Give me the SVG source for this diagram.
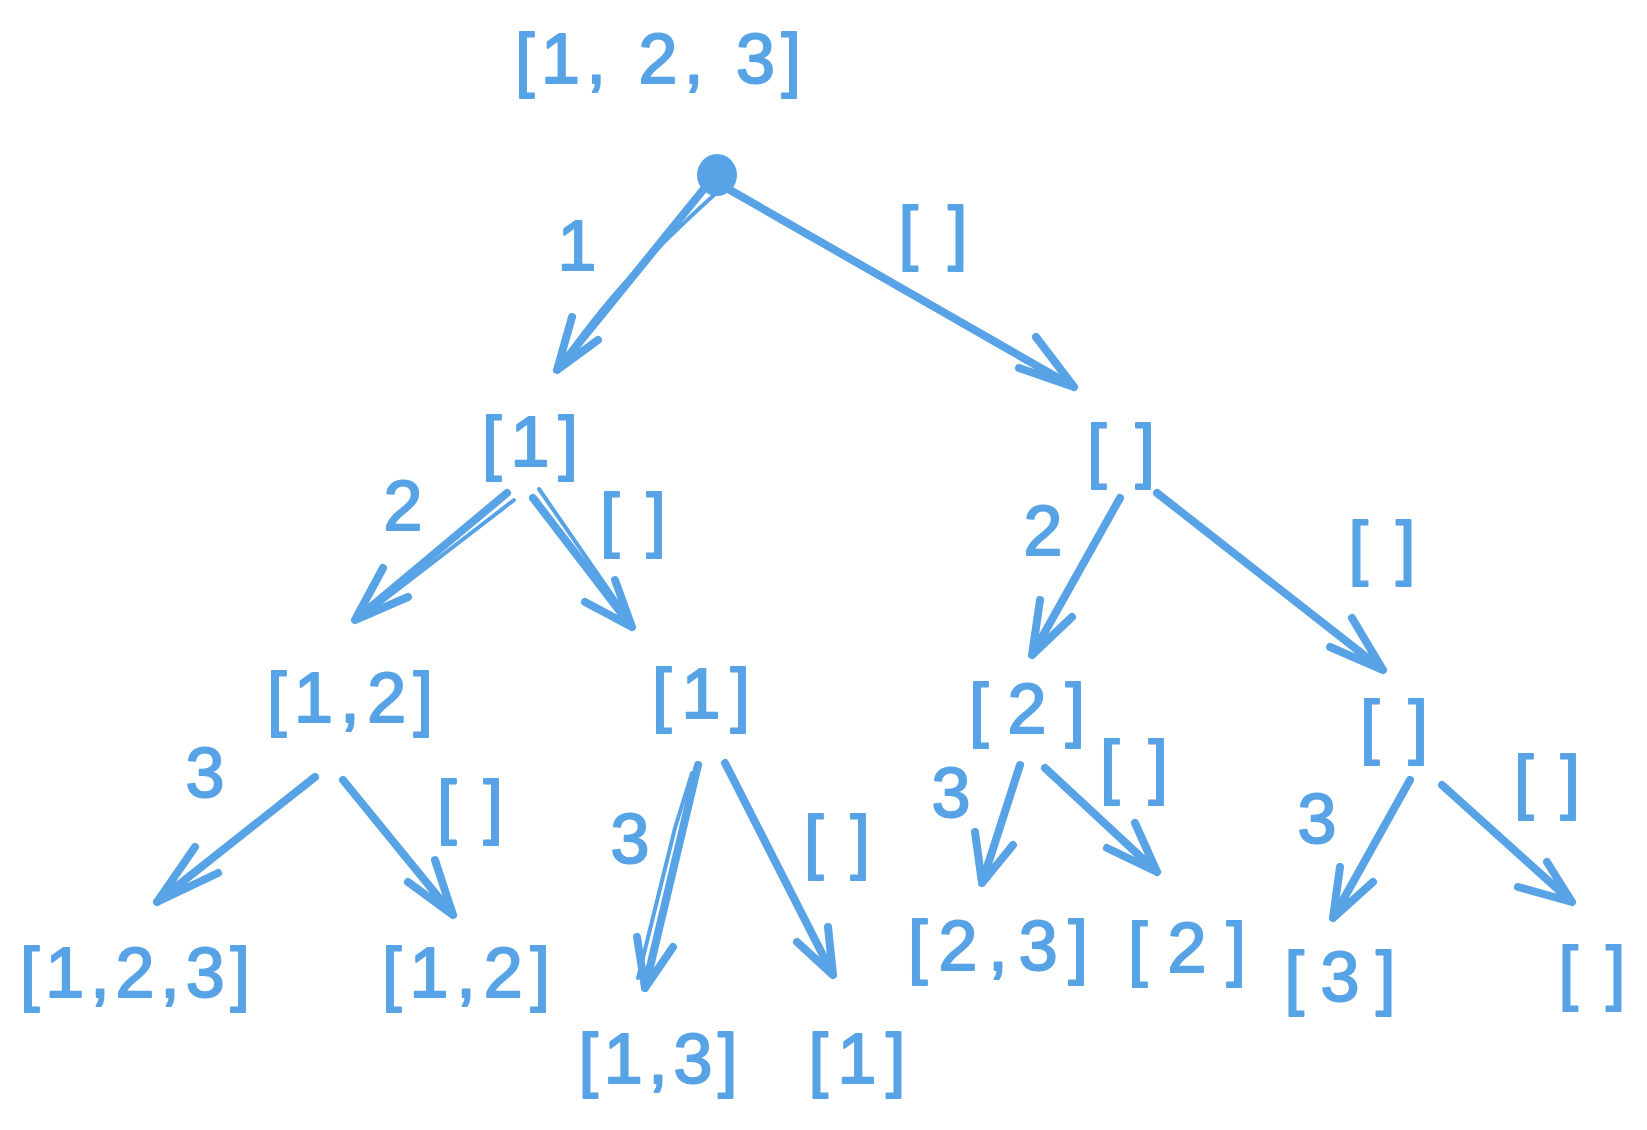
<svg xmlns="http://www.w3.org/2000/svg" width="1647" height="1130" viewBox="0 0 1647 1130">
<style>
.t{font-family:"Liberation Sans","Noto Sans",Arial,sans-serif;font-size:70px;fill:#57a3e6;stroke:#57a3e6;stroke-width:2;stroke-linejoin:round;text-anchor:middle}
.a{fill:none;stroke:#57a3e6;stroke-width:8;stroke-linecap:round;stroke-linejoin:round}
.b{fill:none;stroke:#57a3e6;stroke-width:4;stroke-linecap:round;stroke-linejoin:round}
</style>
<rect width="1647" height="1130" fill="#ffffff"/>
<g id="connectors">
  <!-- root -> [1] -->
  <path class="a" d="M703 190 L557 370 M572 317 L557 370 L598 340"/>
  <path class="b" d="M714 195 Q640 262 600 312 T562 366"/>
  <!-- root -> [] -->
  <path class="a" d="M730 190 L1074 387 M1036 337 L1074 387 L1019 368"/>
  <!-- [1] -> [1,2] -->
  <path class="a" d="M507 493 L355 620 M383 568 L355 620 L408 597"/>
  <path class="b" d="M514 500 L362 617"/>
  <!-- [1] -> [1] -->
  <path class="a" d="M533 498 L632 627 M615 580 L632 627 L585 602"/>
  <path class="b" d="M539 489 L628 618"/>
  <!-- [] -> [2] -->
  <path class="a" d="M1120 498 L1032 655 M1040 600 L1032 655 L1072 617"/>
  <!-- [] -> [] -->
  <path class="a" d="M1157 493 L1383 670 M1352 618 L1383 670 L1330 647"/>
  <!-- [1,2] -> [1,2,3] -->
  <path class="a" d="M315 777 L157 902 M195 847 L157 902 L218 873"/>
  <!-- [1,2] -> [1,2] -->
  <path class="a" d="M343 780 L453 915 M435 860 L453 915 L408 882"/>
  <!-- [1] -> [1,3] -->
  <path class="a" d="M698 765 L645 988 M637 937 L645 988 L673 947"/>
  <path class="b" d="M692 773 L675 828 L638 978"/>
  <!-- [1] -> [1] -->
  <path class="a" d="M725 763 L833 975 M828 927 L833 975 L797 942"/>
  <!-- [2] -> [2,3] -->
  <path class="a" d="M1020 765 L982 883 M975 832 L982 883 L1013 845"/>
  <!-- [2] -> [2] -->
  <path class="a" d="M1045 768 L1157 872 M1135 823 L1157 872 L1107 848"/>
  <!-- [] -> [3] -->
  <path class="a" d="M1410 780 L1333 918 M1340 867 L1333 918 L1373 882"/>
  <!-- [] -> [] -->
  <path class="a" d="M1442 785 L1572 902 M1547 862 L1572 902 L1518 887"/>
</g>
<g id="edge-labels">
  <text class="t" x="577" y="270">1</text>
  <text class="t" x="933" y="256" textLength="69">[]</text>
  <text class="t" x="403" y="530">2</text>
  <text class="t" x="633" y="543" textLength="66">[]</text>
  <text class="t" x="1043" y="555">2</text>
  <text class="t" x="1382" y="571" textLength="67">[]</text>
  <text class="t" x="205" y="797">3</text>
  <text class="t" x="470" y="830" textLength="66">[]</text>
  <text class="t" x="630" y="863">3</text>
  <text class="t" x="837" y="865" textLength="66">[]</text>
  <text class="t" x="951" y="817">3</text>
  <text class="t" x="1134" y="790" textLength="68">[]</text>
  <text class="t" x="1317" y="843">3</text>
  <text class="t" x="1547" y="805" textLength="66">[]</text>
</g>
<g id="node-input"><text class="t" x="658" y="83" textLength="286">[1, 2, 3]</text></g>
<g id="node-root"><ellipse cx="717" cy="175" rx="20" ry="21" fill="#57a3e6"/></g>
<g id="node-l1-a"><text class="t" x="530" y="466" textLength="96">[1]</text></g>
<g id="node-l1-b"><text class="t" x="1121" y="474" textLength="68">[]</text></g>
<g id="node-l2-a"><text class="t" x="350" y="722" textLength="166">[1,2]</text></g>
<g id="node-l2-b"><text class="t" x="701" y="718" textLength="98">[1]</text></g>
<g id="node-l2-c"><text class="t" x="1027" y="733" textLength="116">[2]</text></g>
<g id="node-l2-d"><text class="t" x="1394" y="750" textLength="68">[]</text></g>
<g id="node-leaf-1"><text class="t" x="135" y="997" textLength="230">[1,2,3]</text></g>
<g id="node-leaf-2"><text class="t" x="466" y="997" textLength="168">[1,2]</text></g>
<g id="node-leaf-3"><text class="t" x="658" y="1083" textLength="159">[1,3]</text></g>
<g id="node-leaf-4"><text class="t" x="857" y="1083" textLength="97">[1]</text></g>
<g id="node-leaf-5"><text class="t" x="998" y="970" textLength="180">[2,3]</text></g>
<g id="node-leaf-6"><text class="t" x="1187" y="972" textLength="118">[2]</text></g>
<g id="node-leaf-7"><text class="t" x="1340" y="1001" textLength="111">[3]</text></g>
<g id="node-leaf-8"><text class="t" x="1592" y="996" textLength="67">[]</text></g>
</svg>
